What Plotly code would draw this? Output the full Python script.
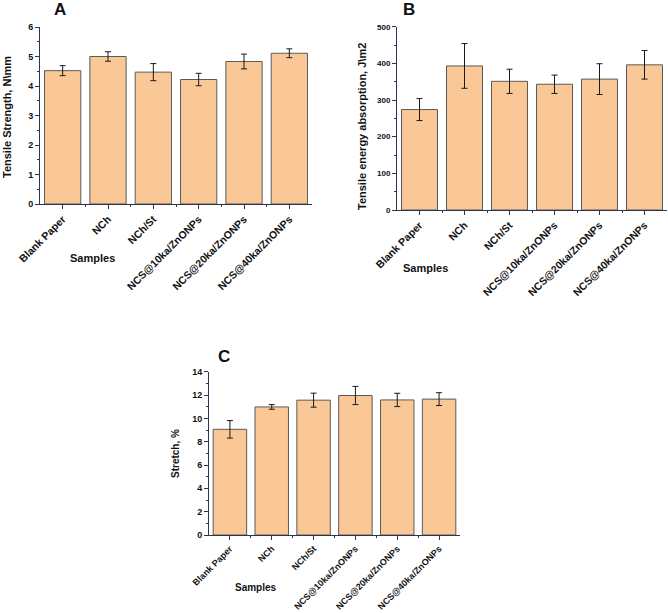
import plotly.graph_objects as go

samples = ["Blank Paper", "NCh", "NCh/St", "NCS@10ka/ZnONPs", "NCS@20ka/ZnONPs", "NCS@40ka/ZnONPs"]
tensile_strength = [4.52, 5.0, 4.47, 4.22, 4.83, 5.11]
tensile_strength_err = [0.17, 0.16, 0.29, 0.21, 0.25, 0.15]
energy_absorption = [274, 393, 351, 343, 357, 396]
energy_absorption_err = [30, 61, 33, 25, 42, 39]
stretch = [9.06, 10.98, 11.56, 11.96, 11.58, 11.65]
stretch_err = [0.75, 0.2, 0.6, 0.78, 0.57, 0.55]

W, H = 668, 613
BAR = "#FAC896"
EDGE = "#5a5a5a"
AXC = "#2b3550"
FONT = "Liberation Sans, Arial, sans-serif"

def px(x):
    return x / W

def py(y):
    return 1 - y / H

idx = list(range(len(samples)))

fig = go.Figure()
panels = [
    ("", tensile_strength, tensile_strength_err, (40, 312), (27, 204), [0, 6], 1, 0.5, 10.5, 9),
    ("2", energy_absorption, energy_absorption_err, (397, 667), (26.7, 210), [0, 500], 100, 50, 10.5, 8),
    ("3", stretch, stretch_err, (209, 460), (371.7, 535), [0, 14], 2, 1, 9, 9),
]

layout = {}
for suf, vals, errs, (x0, x1), (y0, y1), yr, dt, mdt, xfs, yfs in panels:
    fig.add_trace(go.Bar(
        x=idx, y=vals, width=0.8,
        marker=dict(color=BAR, line=dict(color=EDGE, width=1)),
        error_y=dict(type="data", array=errs, color="#1a1a1a", thickness=1, width=3),
        xaxis="x" + suf, yaxis="y" + suf, showlegend=False,
    ))
    layout["xaxis" + suf] = dict(
        domain=[px(x0), px(x1)], anchor="y" + suf, range=[-0.5, 5.5], automargin=False,
        tickmode="array", tickvals=idx, ticktext=samples, tickangle=-45,
        ticks="outside", ticklen=4, tickcolor=AXC, showline=True, linecolor=AXC, linewidth=1,
        showgrid=False, zeroline=False,
        minor=dict(tickvals=[i + 0.5 for i in idx[:-1]], ticks="outside", ticklen=2, tickcolor=AXC),
        tickfont=dict(family=FONT, size=xfs, color="#111", weight="bold"),
    )
    layout["yaxis" + suf] = dict(
        domain=[py(y1), py(y0)], anchor="x" + suf, range=yr, dtick=dt, automargin=False,
        ticks="outside", ticklen=4, tickcolor=AXC, showline=True, linecolor=AXC, linewidth=1,
        showgrid=False, zeroline=False,
        minor=dict(dtick=mdt, ticks="outside", ticklen=2, tickcolor=AXC),
        tickfont=dict(family=FONT, size=yfs, color="#111", weight="bold"),
    )

fig.update_layout(**layout)

ann = []
def add(text, x, y, size, angle=0):
    ann.append(dict(text=text, x=px(x), y=py(y), xref="paper", yref="paper",
                    showarrow=False, textangle=angle, xanchor="center", yanchor="middle",
                    font=dict(family=FONT, size=size, color="#111", weight="bold")))

add("A", 60, 9, 17)
add("B", 409, 9, 17)
add("C", 224, 356, 17)
add("Tensile Strength, N\\mm", 7, 117, 11, -90)
add("Tensile energy absorption, J\\m2", 362, 127, 11, -90)
add("Stretch, %", 175, 454, 10, -90)
add("Samples", 92, 258, 11)
add("Samples", 425, 268, 11)
add("Samples", 256, 587, 10)

fig.update_layout(
    width=W, height=H, margin=dict(l=0, r=0, t=0, b=0, autoexpand=False),
    paper_bgcolor="white", plot_bgcolor="white", annotations=ann,
    bargap=0.2, hovermode=False,
)

fig.write_html(
    "out.html",
    config={"displayModeBar": False},
    post_script="document.body.style.margin='0';document.body.style.padding='0';document.body.style.overflow='hidden';",
)
